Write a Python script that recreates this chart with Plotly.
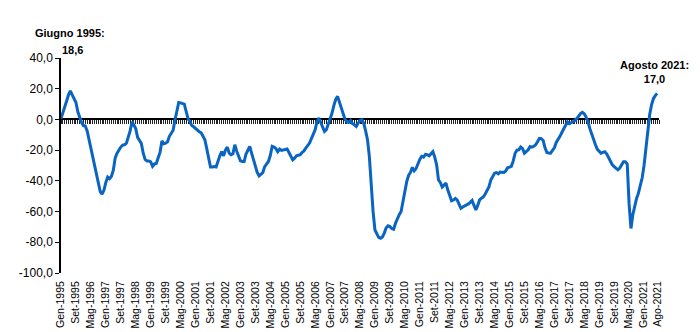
import plotly.graph_objects as go

# Monthly values, Gen-1995 ... Ago-2021
y1995 = [0.5, 4, 8, 12, 16, 18.6, 16, 13.5, 11, 5, 1.5, -2]
y1996 = [-4, -4.3, -7.5, -13, -19, -24, -28.7, -34, -41, -47, -48.7, -46]
y1997 = [-41, -37.5, -38.5, -37, -33, -25, -22, -19.5, -18, -16.7, -16.5, -15.5]
y1998 = [-12, -7.5, -1.5, -3.5, -6, -11.7, -13.5, -15.7, -22, -26, -27, -27]
y1999 = [-27.6, -30.5, -29, -28.7, -25, -21.5, -14, -15.8, -15.5, -14.6, -11, -9]
y2000 = [-7, -0.4, 6, 11, 10.8, 10.4, 10, 5, 0.5, -1.5, -4, -4.8]
y2001 = [-6, -7, -8, -8.7, -11.5, -13.3, -19, -26, -31, -31, -30.7, -31]
y2002 = [-27, -23.7, -21, -23.7, -20, -18, -22, -23, -22.4, -16.5, -20.5, -24]
y2003 = [-27, -27.4, -27.4, -22.5, -20.5, -17.6, -22, -26.3, -31.5, -34.5, -36.7, -35.5]
y2004 = [-34.6, -30.7, -29, -27.4, -23.5, -17.5, -18, -19, -21, -19.3, -20.2, -19.8]
y2005 = [-19.8, -19.3, -21.5, -23.5, -26.3, -25.2, -23.7, -23.3, -23, -21.5, -20.5, -18.7]
y2006 = [-17, -15.4, -12.5, -9.5, -6.7, -1.3, 0.9, -2, -5, -7.8, -6.7, -3.5]
y2007 = [-0.2, 4, 9, 13, 15, 11, 7.4, 4.1, 0, -1.5, -2, -0.7]
y2008 = [-2.8, -3.5, -4.6, -2.5, -0.7, -0.2, -2.5, -7.5, -13, -24, -45, -60]
y2009 = [-72, -75, -76.8, -77.4, -76.5, -74, -70.5, -69.3, -69.8, -71, -71.5, -67.6]
y2010 = [-64.5, -62, -60, -53, -46, -40.5, -36.5, -34.5, -31.2, -33.5, -32, -28.5]
y2011 = [-26, -24, -24.5, -22.8, -23, -23.7, -22, -21, -24.5, -29.6, -39.4, -41]
y2012 = [-44, -42.5, -41.5, -46, -50.2, -53, -52.5, -51.5, -52.4, -55, -57.8, -57]
y2013 = [-56.5, -56, -55, -54, -52.8, -56, -58.9, -56, -52.4, -51.3, -50.5, -48.5]
y2014 = [-46.5, -44, -39.4, -37, -35, -34.6, -35.4, -34.3, -34.3, -34.5, -33.5, -31.5]
y2015 = [-31, -30.5, -27, -22, -20, -19.8, -18, -19, -22, -21, -19.8, -17.6]
y2016 = [-18, -17.5, -16.5, -14.5, -12.3, -12.5, -13.7, -18.5, -21.5, -21.8, -22, -20.2]
y2017 = [-18.5, -15, -13.3, -11, -8.5, -6, -3.5, -1.5, -2.8, -2.2, -1.5, -0.7]
y2018 = [0.5, 2.2, 3.8, 4.6, 3.7, 1.5, -1.5, -6, -10, -13.5, -16.5, -19.5]
y2019 = [-20.9, -22, -21.5, -21, -22.4, -24.5, -27.5, -29.5, -30.7, -31.8, -32.8, -31.7]
y2020 = [-29.5, -27.5, -27.5, -29, -55, -71, -62, -56, -51.5, -48, -43.5, -38]
y2021 = [-30, -18, -6, 3, 9.5, 13.5, 15.5, 17.0]

values = (y1995 + y1996 + y1997 + y1998 + y1999 + y2000 + y2001 + y2002 + y2003
          + y2004 + y2005 + y2006 + y2007 + y2008 + y2009 + y2010 + y2011 + y2012
          + y2013 + y2014 + y2015 + y2016 + y2017 + y2018 + y2019 + y2020 + y2021)

month_names = ["Gen", "Feb", "Mar", "Apr", "Mag", "Giu", "Lug", "Ago", "Set", "Ott", "Nov", "Dic"]
months = [f"{month_names[i % 12]}-{1995 + i // 12}" for i in range(len(values))]
x_idx = list(range(len(values)))

tick_positions = list(range(0, len(values), 8)) + [len(values) - 1]
tick_labels = [months[i] for i in tick_positions]

y_tickvals = [40, 20, 0, -20, -40, -60, -80, -100]
y_ticktext = ["40,0", "20,0", "0,0", "-20,0", "-40,0", "-60,0", "-80,0", "-100,0"]

FONT = "Liberation Sans, Arial, sans-serif"

fig = go.Figure()
fig.add_trace(go.Scatter(
    x=x_idx, y=values, mode="lines", xaxis="x", yaxis="y",
    line=dict(color="#0A64C2", width=3), showlegend=False,
    customdata=months, hovertemplate="%{customdata}: %{y}<extra></extra>",
))
# invisible trace to activate the label axis
fig.add_trace(go.Scatter(
    x=[0], y=[None], xaxis="x2", yaxis="y", mode="markers",
    marker=dict(opacity=0), showlegend=False, hoverinfo="skip",
))

zero_pos = 100 / 140

fig.update_layout(
    width=700, height=332,
    margin=dict(l=61, r=41, t=58, b=59),
    paper_bgcolor="white", plot_bgcolor="white",
    font=dict(family=FONT, color="black"),
    xaxis=dict(
        range=[0, 320], anchor="free", position=zero_pos, automargin=False,
        showgrid=False, zeroline=False, showticklabels=False,
        showline=True, linecolor="black", linewidth=2,
        ticks="outside", tickmode="linear", tick0=0, dtick=1,
        ticklen=4, tickwidth=1, tickcolor="#222222",
        layer="below traces",
    ),
    xaxis2=dict(
        range=[0, 320], overlaying="x", anchor="y", side="bottom", automargin=False,
        showgrid=False, zeroline=False, showline=False,
        tickmode="array", tickvals=tick_positions, ticktext=tick_labels,
        tickangle=-90, ticks="outside", ticklen=3, tickcolor="rgba(0,0,0,0)",
        tickfont=dict(size=10.5, family=FONT, color="black"),
    ),
    yaxis=dict(
        range=[-100, 40], showgrid=False, zeroline=False, automargin=False,
        showline=True, linecolor="black", linewidth=1.5,
        ticks="outside", ticklen=4, tickwidth=1, tickcolor="black",
        tickmode="array", tickvals=y_tickvals, ticktext=y_ticktext,
        tickfont=dict(size=12, family=FONT, color="black"),
    ),
    annotations=[
        dict(xref="paper", yref="paper", x=0, y=1, xanchor="center", yanchor="bottom",
             text="<b>Giugno 1995:</b>", showarrow=False, xshift=9, yshift=17,
             font=dict(size=11, family=FONT, color="black")),
        dict(xref="paper", yref="paper", x=0, y=1, xanchor="left", yanchor="bottom",
             text="<b>18,6</b>", showarrow=False, xshift=-1, yshift=0,
             font=dict(size=11, family=FONT, color="black")),
        dict(xref="x", yref="y", x=319, y=17.0, xanchor="center", yanchor="bottom",
             text="<b>Agosto 2021:</b><br><b>17,0</b>", showarrow=False, xshift=-3, yshift=6,
             font=dict(size=11, family=FONT, color="black")),
    ],
)

fig.write_html("out.html")
